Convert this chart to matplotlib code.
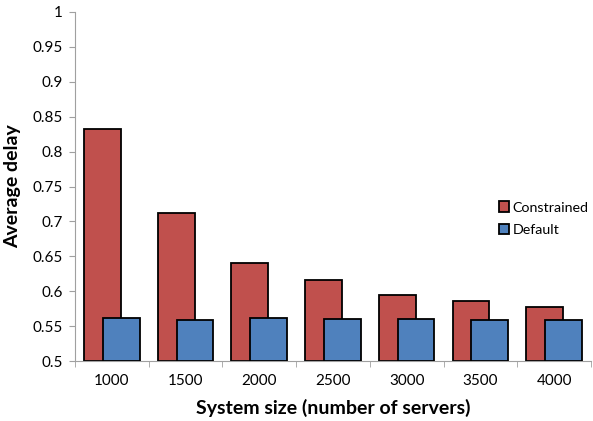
import matplotlib.pyplot as plt
import numpy as np

# data
sizes = ['1000', '1500', '2000', '2500', '3000', '3500', '4000']
constrained = [0.832, 0.712, 0.641, 0.616, 0.595, 0.586, 0.577]
default = [0.561, 0.559, 0.561, 0.560, 0.560, 0.559, 0.559]

plt.rcParams['font.family'] = ['Lato', 'DejaVu Sans']

fig = plt.figure(figsize=(5.93, 4.21), dpi=100)
ax = fig.add_axes([0.1265, 0.1425, 0.870, 0.829])

x = np.arange(len(sizes))
w = 0.5
off = 0.127
ax.bar(x - off, [c - 0.5 for c in constrained], w, bottom=0.5, color='#C0504D',
       edgecolor='black', linewidth=1.3, label='Constrained', zorder=2)
ax.bar(x + off, [d - 0.5 for d in default], w, bottom=0.5, color='#4F81BD',
       edgecolor='black', linewidth=1.3, label='Default', zorder=3)

ax.set_xlim(-0.5, len(sizes) - 0.5)
ax.set_ylim(0.5, 1.0)
ax.set_yticks(np.arange(0.5, 1.0001, 0.05))
ax.set_yticklabels(['0.5', '0.55', '0.6', '0.65', '0.7', '0.75', '0.8', '0.85', '0.9', '0.95', '1'])
ax.set_xticks(x)
ax.set_xticklabels(sizes)
ax.set_xticks(np.arange(-0.5, len(sizes)), minor=True)
ax.tick_params(axis='x', which='major', length=0, labelsize=11, pad=9)
ax.tick_params(axis='x', which='minor', length=4, color='#A0A0A0')
ax.tick_params(axis='y', length=4, color='#A0A0A0', labelsize=11, pad=5)

for s in ['top', 'right']:
    ax.spines[s].set_visible(False)
for s in ['left', 'bottom']:
    ax.spines[s].set_color('#A0A0A0')

ax.set_ylabel('Average delay', fontsize=14, fontweight='bold', labelpad=8)
ax.set_xlabel('System size (number of servers)', fontsize=14, fontweight='bold', labelpad=8)

fig.legend(loc='upper left', bbox_to_anchor=(0.832, 0.535), frameon=False, fontsize=10.3,
           handlelength=0.7, handleheight=0.7, handletextpad=0.25, labelspacing=0.75,
           borderaxespad=0)

fig.savefig('out.png', dpi=100)
